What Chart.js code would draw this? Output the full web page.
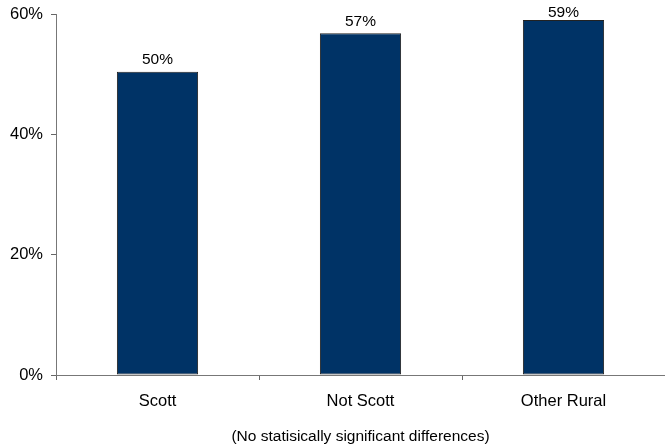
<!DOCTYPE html>
<html>
<head>
<meta charset="utf-8">
<script src="https://cdn.jsdelivr.net/npm/chart.js@4"></script>
<style>
  html, body { margin: 0; padding: 0; background: #fff; }
  #wrap { width: 665px; height: 446px; }
</style>
</head>
<body>
<div id="wrap"><canvas id="chart" width="665" height="446"></canvas></div>
<script>
// Share of respondents by area
const categories = ['Scott', 'Not Scott', 'Other Rural'];
const values = [50.4, 56.8, 59.0];
const valueLabels = ['50%', '57%', '59%'];
const yTicks = [0, 20, 40, 60];
const caption = '(No statisically significant differences)';

const FONT = "'Liberation Sans', Arial, sans-serif";

// draws the value text above each bar, kept from running off the top
const barLabels = {
    id: 'barLabels',
    afterDatasetsDraw(chart) {
        const ctx = chart.ctx;
        const meta = chart.getDatasetMeta(0);
        ctx.save();
        ctx.font = '15.5px ' + FONT;
        ctx.fillStyle = '#000';
        ctx.textAlign = 'center';
        ctx.textBaseline = 'bottom';
        meta.data.forEach((bar, i) => {
            ctx.fillText(valueLabels[i], bar.x, Math.max(bar.y - 4, 20));
        });
        ctx.restore();
    }
};

new Chart(document.getElementById('chart'), {
    type: 'bar',
    data: {
        labels: categories,
        datasets: [{
            data: values,
            backgroundColor: '#003366',
            borderColor: '#222',
            borderWidth: 1,
            borderSkipped: false,
            categoryPercentage: 1,
            barPercentage: 0.4
        }]
    },
    options: {
        responsive: false,
        animation: false,
        layout: { padding: { top: 14, right: 0, left: 0, bottom: 0 } },
        plugins: { legend: { display: false }, tooltip: { enabled: false } },
        scales: {
            x: {
                grid: { display: true, drawOnChartArea: false, offset: true, tickLength: 5, color: '#666' },
                border: { color: '#777', width: 1 },
                ticks: { color: '#000', font: { family: FONT, size: 16.5 }, padding: 12 },
                title: { display: true, text: caption, color: '#000', font: { family: FONT, size: 15.5 }, padding: { top: 10, bottom: 0 } },
                afterFit(scale) { scale.height = 71; }
            },
            y: {
                min: 0,
                max: 60,
                afterBuildTicks(scale) { scale.ticks = yTicks.map(v => ({ value: v })); },
                grid: { display: true, drawOnChartArea: false, tickLength: 5, color: '#666' },
                border: { color: '#777', width: 1 },
                ticks: { color: '#000', font: { family: FONT, size: 16.5, lineHeight: 0.8 }, padding: 8, callback: v => v + '%' },
                afterFit(scale) { scale.width = 56; scale.paddingTop = 0; scale.paddingBottom = 0; }
            }
        }
    },
    plugins: [barLabels]
});
</script>
</body>
</html>
